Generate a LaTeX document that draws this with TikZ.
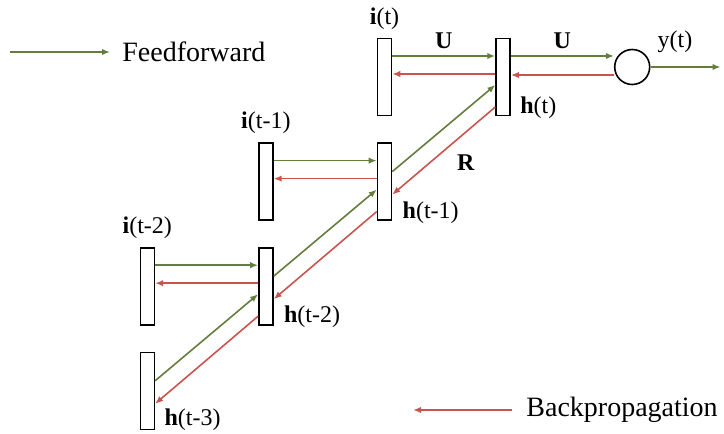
\documentclass[tikz,border=0pt]{standalone}
\usepackage{fontspec}
\setmainfont{Liberation Serif}
\usetikzlibrary{positioning, arrows.meta}
\definecolor{ffcol}{RGB}{98, 125, 60}
\definecolor{bpcol}{RGB}{200, 84, 78}
\tikzset{
  cell/.style={draw, line width=0.8pt, minimum width=7pt, minimum height=38.5pt, inner sep=0pt},
  unit/.style={draw, circle, line width=0.8pt, minimum size=17.5pt, inner sep=0pt},
  lab/.style={inner sep=0pt, text=black, font=\fontsize{12}{14}\selectfont},
  legend/.style={inner ysep=0pt, text=black, font=\fontsize{14}{16}\selectfont},
  fwd/.style={-{Latex[length=4pt, width=3.2pt]}, ffcol, line width=0.8pt},
  bwd/.style={-{Latex[length=4pt, width=3.2pt]}, bpcol, line width=0.8pt},
}

\begin{document}
\begin{tikzpicture}[x=0.5pt, y=-0.5pt]
  \useasboundingbox (0,0) rectangle (724,434);

  % cells, top right down to bottom left
  \node[cell] (it) at (384.5,77) {};
  \node[cell, right=51.5pt of it] (ht) {};
  \node[cell, below=13pt of it] (ht1) {};
  \node[cell, left=51.5pt of ht1] (it1) {};
  \node[cell, below=13pt of it1] (ht2) {};
  \node[cell, left=51.5pt of ht2] (it2) {};
  \node[cell, below=13pt of it2] (ht3) {};
  \node[unit, right=51.5pt of ht, yshift=5pt] (out) {};
  \coordinate[right=35pt of out] (yout);

  % labels
  \node[lab, above=4pt of it] (lit) {\textbf{i}(t)};
  \node[lab, above=4pt of it1] (lit1) {\textbf{i}(t-1)};
  \node[lab, above=4pt of it2] (lit2) {\textbf{i}(t-2)};
  \node[lab, above right=-1.5pt and 4.5pt of ht.south east] (lht) {\textbf{h}(t)};
  \node[lab, above right=-1.5pt and 5pt of ht1.south east] (lht1) {\textbf{h}(t-1)};
  \node[lab, above right=-1.5pt and 5pt of ht2.south east] (lht2) {\textbf{h}(t-2)};
  \node[lab, above right=-0.5pt and 4.5pt of ht3.south east] (lht3) {\textbf{h}(t-3)};
  \node[lab, above right=-2pt and 12.5pt of out.north] (lyt) {y(t)};

  % input to hidden
  \draw[fwd] ([yshift=10.5pt]it.east) -- node[lab, above=3pt] (lu1) {\textbf{U}} ([yshift=10.5pt]ht.west);
  \draw[bwd] ([yshift=1.5pt]ht.west) -- ([yshift=1.5pt]it.east);
  \draw[fwd] ([yshift=10.5pt]it1.east) -- ([yshift=10.5pt]ht1.west);
  \draw[bwd] ([yshift=1.5pt]ht1.west) -- ([yshift=1.5pt]it1.east);
  \draw[fwd] ([yshift=10.5pt]it2.east) -- ([yshift=10.5pt]ht2.west);
  \draw[bwd] ([yshift=1.5pt]ht2.west) -- ([yshift=1.5pt]it2.east);

  % hidden to output
  \draw[fwd] ([yshift=10.5pt]ht.east) -- node[lab, above=3pt] (lu2) {\textbf{U}} ([yshift=5.5pt]out.west);
  \draw[bwd] ([yshift=-4pt]out.west) -- ([yshift=1pt]ht.east);
  \draw[fwd] (out.east) -- (yout);

  % hidden to hidden
  \draw[fwd] ([yshift=5pt]ht1.east) -- ([yshift=-4pt]ht.west);
  \draw[bwd] ([yshift=-15pt]ht.west) -- node[lab, xshift=11pt, yshift=-5.75pt] (lr) {\textbf{R}} ([yshift=-6.5pt]ht1.east);
  \draw[fwd] ([yshift=5pt]ht2.east) -- ([yshift=-4pt]ht1.west);
  \draw[bwd] ([yshift=-15pt]ht1.west) -- ([yshift=-6.5pt]ht2.east);
  \draw[fwd] ([yshift=5pt]ht3.east) -- ([yshift=-4pt]ht2.west);
  \draw[bwd] ([yshift=-15pt]ht2.west) -- ([yshift=-6.5pt]ht3.east);

  % legend
  \coordinate (ffstart) at (10,52);
  \node[legend, anchor=west, inner xsep=6pt] (ffname) at (110,52) {Feedforward};
  \draw[fwd] (ffstart) -- (ffname.west);
  \coordinate (bpend) at (413,410);
  \node[legend, anchor=west, inner xsep=7pt] (bpname) at (512,410) {Backpropagation};
  \draw[bwd] (bpname.west) -- (bpend);
\end{tikzpicture}
\end{document}
